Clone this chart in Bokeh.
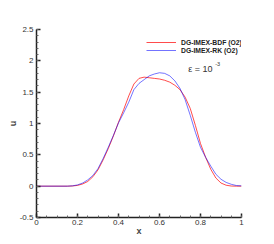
from bokeh.plotting import figure
from bokeh.models import (Range1d, FixedTicker, CustomJSTickFormatter, Legend,
                          LegendItem, Label)
from bokeh.embed import file_html
from bokeh.resources import INLINE

# ---- data ----
x_vals = [0.0, 0.15, 0.175, 0.2, 0.225, 0.25, 0.275, 0.3, 0.325, 0.35, 0.375,
          0.4, 0.425, 0.45, 0.475, 0.5, 0.525, 0.55, 0.575, 0.6, 0.625, 0.65,
          0.675, 0.7, 0.725, 0.75, 0.775, 0.8, 0.825, 0.85, 0.875, 0.9, 0.925,
          0.95, 0.975, 1.0]
u_bdf = [0.0, 0.0, 0.003, 0.012, 0.035, 0.075, 0.15, 0.26, 0.42, 0.60, 0.80,
         1.02, 1.22, 1.44, 1.63, 1.72, 1.74, 1.73, 1.72, 1.71, 1.69, 1.66,
         1.61, 1.54, 1.42, 1.24, 0.97, 0.68, 0.46, 0.27, 0.13, 0.05, 0.015,
         0.002, 0.0, 0.0]
u_rk = [0.0, 0.0, 0.005, 0.02, 0.05, 0.10, 0.17, 0.28, 0.44, 0.62, 0.81,
        1.01, 1.17, 1.34, 1.54, 1.64, 1.70, 1.76, 1.79, 1.81, 1.80, 1.76,
        1.68, 1.56, 1.38, 1.13, 0.86, 0.62, 0.46, 0.32, 0.19, 0.11, 0.06,
        0.03, 0.01, 0.005]
series_names = ["DG-IMEX-BDF (O2)", "DG-IMEX-RK (O2)"]
x_ticks = [0, 0.2, 0.4, 0.6, 0.8, 1.0]
y_ticks = [-0.5, 0, 0.5, 1.0, 1.5, 2.0, 2.5]
x_minor = [round(i * 0.05, 3) for i in range(0, 21)]
y_minor = [round(-0.5 + i * 0.1, 3) for i in range(0, 31)]

FONT = "Liberation Sans"
AXC = "#222222"

p = figure(width=274, height=244, output_backend="svg", toolbar_location=None,
           x_range=Range1d(0, 1), y_range=Range1d(-0.5, 2.5),
           min_border_left=36, min_border_right=33, min_border_top=29,
           min_border_bottom=27)
p.outline_line_color = None
p.xgrid.visible = False
p.ygrid.visible = False
p.background_fill_color = "white"

fmt = CustomJSTickFormatter(code="return String(Math.round(tick*10)/10)")
for ax, ticks, minor, lab in ((p.xaxis[0], x_ticks, x_minor, "x"),
                              (p.yaxis[0], y_ticks, y_minor, "u")):
    ax.ticker = FixedTicker(ticks=ticks, minor_ticks=minor)
    ax.formatter = fmt
    ax.axis_label = lab
    ax.axis_label_text_font = FONT
    ax.axis_label_text_font_style = "bold"
    ax.axis_label_text_font_size = "9px"
    ax.major_label_text_font = FONT
    ax.major_label_text_font_size = "8px"
    ax.major_label_text_color = "#333333"
    ax.axis_line_color = AXC
    ax.axis_line_width = 1.5
    ax.major_tick_line_color = AXC
    ax.major_tick_line_width = 1.5
    ax.minor_tick_line_color = "#666666"
    ax.major_tick_in = 4
    ax.major_tick_out = 0
    ax.minor_tick_in = 2
    ax.minor_tick_out = 0
p.xaxis[0].major_label_standoff = 2
p.xaxis[0].axis_label_standoff = -2
p.yaxis[0].major_label_standoff = 3
p.yaxis[0].axis_label_standoff = -1

r1 = p.line(x_vals, u_bdf, line_color="#ff0000", line_width=1, line_alpha=0.7)
r2 = p.line(x_vals, u_rk, line_color="#0000ff", line_width=1, line_alpha=0.55)

legend = Legend(items=[LegendItem(label=series_names[0], renderers=[r1]),
                       LegendItem(label=series_names[1], renderers=[r2])],
                location=(110, 163), orientation="vertical",
                glyph_width=30, glyph_height=8, label_height=8, spacing=0,
                padding=0, margin=0, label_standoff=5,
                label_text_font=FONT, label_text_font_size="6.8px",
                label_text_font_style="bold", label_text_color="#222222",
                border_line_alpha=0, background_fill_alpha=0)
p.add_layout(legend)

p.add_layout(Label(x=0.74, y=1.875, text="ε  =  10", text_font=FONT,
                   text_font_size="9px", text_baseline="middle",
                   text_color="#333333"))
p.add_layout(Label(x=0.872, y=1.95, text="-3", text_font=FONT,
                   text_font_size="5.5px", text_baseline="middle",
                   text_color="#333333"))

open("out.html", "w").write(file_html(p, INLINE))
